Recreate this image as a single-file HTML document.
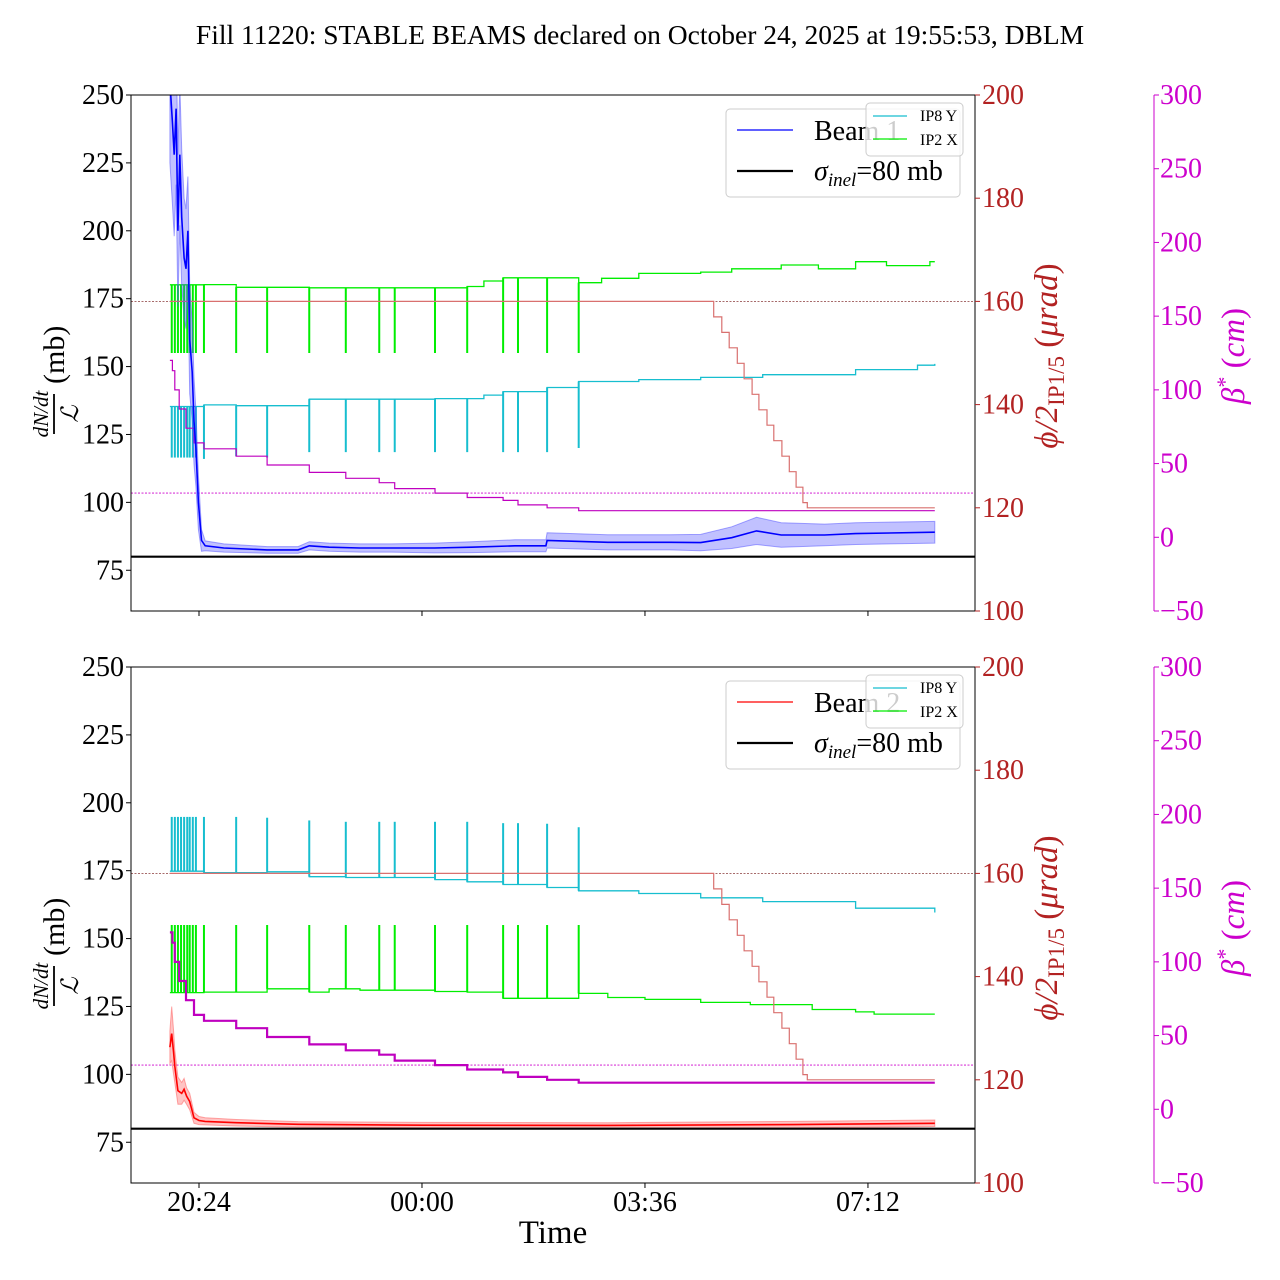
<!DOCTYPE html>
<html><head><meta charset="utf-8"><style>
html,body{margin:0;padding:0;background:#fff;}
svg{display:block;font-family:"Liberation Serif","DejaVu Serif",serif;}
</style></head><body>
<svg id="chart" width="1280" height="1280" viewBox="0 0 1280 1280" xmlns="http://www.w3.org/2000/svg">
<text x="640" y="44" font-size="27.5" text-anchor="middle">Fill 11220: STABLE BEAMS declared on October 24, 2025 at 19:55:53, DBLM</text>
<g id="plots"></g>
</svg>
<script>
// ---- data (time in hours; >24 means next day) ----
const xTickLabels = ["20:24","00:00","03:36","07:12"];
const xTickTimes = [20.4, 24.0, 27.6, 31.2];
const leftTicks = [75,100,125,150,175,200,225,250];
const redTicks = [100,120,140,160,180,200];
const magTicks = [-50,0,50,100,150,200,250,300];
const sigmaInel = 80;
const angleRefLine = 160;
const betaRefLine = 30;

const spikeTimes = [19.96,20.01,20.06,20.11,20.16,20.21,20.25,20.30,20.35,20.48,21.00,21.50,22.18,22.77,23.31,23.56,24.21,24.73,25.31,25.55,26.02,26.53];

const betaT = [19.93,19.97,20.01,20.08,20.19,20.32,20.48,21.00,21.50,22.18,22.77,23.31,23.56,24.21,24.73,25.31,25.55,26.02,26.53,32.28];
const betaV = [120,113,100,87,74,64,60,55,49,44,40,37,33,30,27,25,22,20,18,18];

const angleT = [19.93,28.71,28.84,28.96,29.09,29.20,29.33,29.44,29.57,29.68,29.81,29.93,30.04,30.15,30.22,32.28];
const angleV = [160,157,154,151,148,145,142,139,136,133,130,127,124,121,120,120];

// top panel (Beam 1)
const cyan1T = [19.93,20.48,21.00,22.18,24.21,25.00,25.31,26.02,26.53,27.5,28.5,29.5,31.0,32.0,32.28];
const cyan1V = [135.3,135.9,135.6,138.0,138.2,139.5,140.8,142.3,144.5,145.2,146.0,147.0,148.9,150.5,151.0];
const cyan1SpikeV = [116.5,116.5,116.5,116.5,116.5,116.5,116.5,116.5,116.5,116,117,116.5,118.5,118.5,118.5,118.5,118.5,118.5,118.5,118.5,118.5,120];
const green1T = [19.93,20.48,21.00,22.18,23.31,24.73,25.0,25.31,26.53,26.9,27.5,28.5,29.0,29.8,30.4,31.0,31.5,32.2,32.28];
const green1V = [180.1,180.2,179.2,179.0,179.0,179.5,181.5,182.7,180.9,182.5,184.3,184.8,186.0,187.4,186.0,188.6,187.2,188.6,188.6];
const green1SpikeV = spikeTimes.map(()=>155);
const beam1T = [19.93,19.97,20.00,20.03,20.06,20.09,20.12,20.16,20.19,20.22,20.25,20.29,20.32,20.35,20.39,20.44,20.50,20.8,21.5,22.0,22.18,22.5,23.0,23.5,24.2,24.8,25.5,26.0,26.02,27.0,28.0,28.5,29.0,29.4,29.8,30.5,31.0,32.28];
const beam1V = [255,240,228,245,200,228,205,190,186,200,160,148,130,120,100,86,84,83.2,82.5,82.5,84,83.5,83.2,83.2,83.2,83.5,84,84,86,85.3,85.3,85.2,87,89.5,88,88,88.5,89];
const beam1E = [30,30,30,28,28,26,25,22,22,20,20,18,16,14,10,4,1.8,1.5,1.2,1.2,1.5,1.5,1.5,1.5,1.8,2,2.2,2.2,2.8,2.8,2.8,3,4,5,4.5,4,4,4];

// bottom panel (Beam 2)
const cyan2T = [19.93,20.48,21.5,22.18,22.77,24.21,24.73,25.31,26.02,26.53,27.5,28.5,29.5,31.0,32.28];
const cyan2V = [174.8,174.3,174.6,172.8,172.5,171.7,170.9,169.9,168.8,167.6,166.6,165.0,163.6,161.2,159.6];
const cyan2SpikeV = [194.8,194.8,194.8,194.8,194.8,194.8,194.8,194.8,194.8,194.8,194.8,194.5,193.5,193,193,193,193,193,192.5,192.5,192.3,191];
const green2T = [19.93,20.48,21.0,21.5,22.18,22.5,23.0,24.21,24.73,25.31,25.55,26.53,27.0,27.6,28.5,29.3,30.3,31.0,31.3,32.28];
const green2V = [130.1,130.3,130.3,131.5,130.3,131.5,131.0,130.5,130.3,128.0,128.0,129.8,128.3,127.6,126.5,125.7,123.9,123.0,122.2,122.2];
const green2SpikeV = spikeTimes.map(()=>155);
const beam2T = [19.93,19.96,19.99,20.01,20.06,20.12,20.16,20.20,20.25,20.32,20.40,20.5,21.0,22.0,24.0,27.0,30.0,32.28];
const beam2V = [110,115,108,103,94,93,94.5,92,90,84,83,82.7,82.2,81.6,81.3,81.2,81.5,82];
const beam2E = [6,10,8,6,5,4,4,3,3,2,1.5,1.3,1.2,1,1,1,1.2,1.2];

// ---- axis helpers ----
const X0=131, X1=975;
function xs(t){ return 199 + (t-20.4)*61.94; }
function makeAxes(top){ const bot=top+516;
  return {top,bot,
    yL:v=>bot-(v-60)*(516/190),
    yR:v=>bot-(v-100)*(516/100),
    yM:v=>bot-(v+50)*(516/350)};
}
const NS="http://www.w3.org/2000/svg";
const root=document.getElementById('plots');
function el(tag,attrs,parent){const e=document.createElementNS(NS,tag);for(const k in attrs)e.setAttribute(k,attrs[k]);(parent||root).appendChild(e);return e;}
function stepPath(T,V,yf){let d='M'+xs(T[0]).toFixed(1)+','+yf(V[0]).toFixed(1);
  for(let i=1;i<T.length;i++){d+='H'+xs(T[i]).toFixed(1)+'V'+yf(V[i]).toFixed(1);}return d;}
function linePath(T,V,yf){return T.map((t,i)=>(i?'L':'M')+xs(t).toFixed(1)+','+yf(V[i]).toFixed(1)).join('');}
function interp(T,V,t){let v=V[0];for(let i=0;i<T.length;i++){if(T[i]<=t)v=V[i];}return v;}

const TF=28;
function panel(idx,top,beamT,beamV,beamE,beamColor,bandColor,cT,cV,cS,gT,gV,gS,beamLabel,showXLabels,betaW){
  const A=makeAxes(top);
  const g=el('g',{});  
  const clipId='clip'+idx;
  const cp=el('clipPath',{id:clipId},g); el('rect',{x:X0,y:A.top,width:X1-X0,height:516},cp);
  const pg=el('g',{'clip-path':'url(#'+clipId+')'},g);
  let l=el('line',{x1:X0,x2:X1,y1:A.yR(angleRefLine),y2:A.yR(angleRefLine),stroke:'#8a3a3a','stroke-width':0.8,'stroke-dasharray':'2,1.5'},pg);
   
  l=el('line',{x1:X0,x2:X1,y1:A.yM(betaRefLine),y2:A.yM(betaRefLine),stroke:'#cc00cc','stroke-width':0.8,'stroke-dasharray':'2,1.5'},pg);
   
  let p=el('path',{d:stepPath(gT,gV,A.yL),fill:'none',stroke:'#00ee00','stroke-width':1.3},pg);
   
  spikeTimes.forEach((t,i)=>{const s=el('line',{x1:xs(t),x2:xs(t),y1:A.yL(interp(gT,gV,t)),y2:A.yL(gS[i]),stroke:'#00ee00','stroke-width':2},pg);
     });
  p=el('path',{d:stepPath(cT,cV,A.yL),fill:'none',stroke:'#17becf','stroke-width':1.3},pg);
   
  spikeTimes.forEach((t,i)=>{const s=el('line',{x1:xs(t),x2:xs(t),y1:A.yL(interp(cT,cV,t)),y2:A.yL(cS[i]),stroke:'#17becf','stroke-width':2},pg);
     });
  p=el('path',{d:stepPath(angleT,angleV,A.yR),fill:'none',stroke:'#d9706f','stroke-width':1.2},pg);
   
  p=el('path',{d:stepPath(betaT,betaV,A.yM),fill:'none',stroke:'#bf00bf','stroke-width':betaW},pg);
   
  const up=beamT.map((t,i)=>beamV[i]+beamE[i]), lo=beamT.map((t,i)=>beamV[i]-beamE[i]);
  let d=linePath(beamT,up,A.yL)+beamT.slice().reverse().map((t,j)=>{const i=beamT.length-1-j;return 'L'+xs(t).toFixed(1)+','+A.yL(lo[i]).toFixed(1);}).join('')+'Z';
  p=el('path',{d,fill:bandColor,'fill-opacity':0.35,stroke:bandColor,'stroke-opacity':0.5,'stroke-width':1},pg);
   
  p=el('path',{d:linePath(beamT,beamV,A.yL),fill:'none',stroke:beamColor,'stroke-width':1.6},pg);
   
  l=el('line',{x1:X0,x2:X1,y1:A.yL(sigmaInel),y2:A.yL(sigmaInel),stroke:'#000','stroke-width':2.2},pg);
   
  const fr=el('rect',{x:X0,y:A.top,width:X1-X0,height:516,fill:'none',stroke:'#000','stroke-width':1},g);
   
  leftTicks.forEach(v=>{const y=A.yL(v);el('line',{x1:X0-5,x2:X0,y1:y,y2:y,stroke:'#000'},g);
    const t=el('text',{x:X0-7,y:y+9,'font-size':TF,'text-anchor':'end'},g);t.textContent=v;
     });
  redTicks.forEach(v=>{const y=A.yR(v);el('line',{x1:X1,x2:X1+5,y1:y,y2:y,stroke:'#b22222'},g);
    const t=el('text',{x:X1+7,y:y+9,'font-size':TF,fill:'#b22222'},g);t.textContent=v;
     });
  const MX=1154;
  el('line',{x1:MX,x2:MX,y1:A.top,y2:A.bot,stroke:'#cc00cc','stroke-width':1},g);
  magTicks.forEach(v=>{const y=A.yM(v);el('line',{x1:MX,x2:MX+5,y1:y,y2:y,stroke:'#cc00cc'},g);
    const t=el('text',{x:MX+6,y:y+9,'font-size':TF,fill:'#cc00cc'},g);t.textContent=(v<0?'\u2212'+(-v):v);
     });
  xTickTimes.forEach((t,i)=>{const x=xs(t);el('line',{x1:x,x2:x,y1:A.bot,y2:A.bot+5,stroke:'#000'},g);
    if(showXLabels){const tx=el('text',{x:x,y:A.bot+28,'font-size':TF,'text-anchor':'middle'},g);tx.textContent=xTickLabels[i];
       }});
  const cy=(A.top+A.bot)/2+3;
  const yl=el('g',{transform:'translate(54,'+cy+') rotate(-90)'},g);
   
  let t=el('text',{x:-58,y:-6,'font-size':21,'font-style':'italic','text-anchor':'middle'},yl);t.textContent='dN/dt';
  el('line',{x1:-78,x2:-38,y1:0,y2:0,stroke:'#000','stroke-width':1.8},yl);
  t=el('text',{x:-58,y:24,'font-size':24,'font-style':'italic','text-anchor':'middle'},yl);t.textContent='\u2112';
  t=el('text',{x:-28,y:10,'font-size':30},yl);t.textContent='(mb)';
  const rl=el('g',{transform:'translate(1057,'+cy+') rotate(-90)'},g);
   
  t=el('text',{x:0,y:0,'font-size':33,fill:'#b22222','text-anchor':'middle'},rl);
  t.innerHTML='<tspan font-style="italic">\u03d5/2</tspan><tspan font-size="23" dy="7">IP1/5</tspan><tspan dy="-7"> (</tspan><tspan font-style="italic">\u03bcrad</tspan>)';
  const ml=el('g',{transform:'translate(1244,'+cy+') rotate(-90)'},g);
   
  t=el('text',{x:0,y:0,'font-size':33,fill:'#cc00cc','text-anchor':'middle'},ml);
  t.innerHTML='<tspan font-style="italic">\u03b2</tspan><tspan font-size="22" dy="-12">*</tspan><tspan dy="12"> (</tspan><tspan font-style="italic">cm</tspan>)';
  const lg=el('g',{},g);  
  el('rect',{x:726,y:A.top+14,width:234,height:88,rx:4,fill:'#fff','fill-opacity':0.85,stroke:'#ccc'},lg);
  el('line',{x1:737,x2:793,y1:A.top+35,y2:A.top+35,stroke:beamColor,'stroke-width':1.2},lg);
  t=el('text',{x:814,y:A.top+45,'font-size':28},lg);t.textContent=beamLabel;
  el('line',{x1:737,x2:793,y1:A.top+76,y2:A.top+76,stroke:'#000','stroke-width':2.2},lg);
  t=el('text',{x:814,y:A.top+85,'font-size':28},lg);
  t.innerHTML='<tspan font-style="italic">\u03c3</tspan><tspan font-size="19" font-style="italic" dy="6">inel</tspan><tspan dy="-6">=80 mb</tspan>';
  const sg=el('g',{},g);  
  el('rect',{x:866,y:A.top+8,width:97,height:53,rx:4,fill:'#fff','fill-opacity':0.8,stroke:'#ccc'},sg);
  el('line',{x1:873,x2:907,y1:A.top+21,y2:A.top+21,stroke:'#17becf','stroke-width':1.2},sg);
  t=el('text',{x:920,y:A.top+26,'font-size':16},sg);t.textContent='IP8 Y';
  el('line',{x1:873,x2:907,y1:A.top+44,y2:A.top+44,stroke:'#00ee00','stroke-width':1.2},sg);
  t=el('text',{x:920,y:A.top+50,'font-size':16},sg);t.textContent='IP2 X';
}
panel(1,95,beam1T,beam1V,beam1E,'#0000ff','#4d4dff',cyan1T,cyan1V,cyan1SpikeV,green1T,green1V,green1SpikeV,'Beam 1',false,1.2);
panel(2,667,beam2T,beam2V,beam2E,'#ff0000','#ff5555',cyan2T,cyan2V,cyan2SpikeV,green2T,green2V,green2SpikeV,'Beam 2',true,2.2);
const xl=el('text',{x:553,y:1243,'font-size':33,'text-anchor':'middle'});
xl.textContent='Time';


</script>
</body></html>
